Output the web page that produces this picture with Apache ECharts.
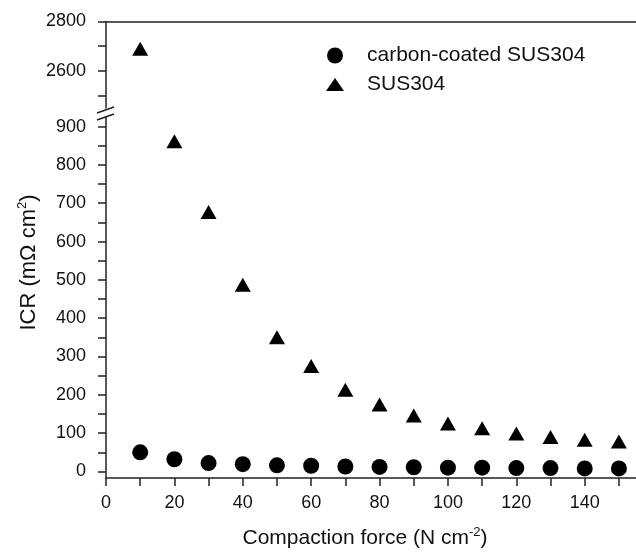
<!DOCTYPE html>
<html>
<head>
<meta charset="utf-8">
<script src="https://cdn.jsdelivr.net/npm/echarts@6/dist/echarts.min.js"></script>
<style>
  html, body { margin: 0; padding: 0; background: #fff; }
  #chart { width: 636px; height: 555px; }
</style>
</head>
<body>
<div id="chart"></div>
<script>
// compaction force (N cm-2)
var force = [10, 20, 30, 40, 50, 60, 70, 80, 90, 100, 110, 120, 130, 140, 150];
// ICR (mOhm cm2)
var coated = [50, 32, 22, 19, 16, 15, 13, 12, 11, 10, 10, 9, 9, 8, 8];
var bare = [2690, 862, 677, 487, 350, 275, 213, 175, 146, 125, 113, 99, 90, 83, 78];

var xTicks = [0, 10, 20, 30, 40, 50, 60, 70, 80, 90, 100, 110, 120, 130, 140, 150];
var xLabels = [0, 20, 40, 60, 80, 100, 120, 140];
var lowTicks = [0, 50, 100, 150, 200, 250, 300, 350, 400, 450, 500, 550, 600, 650, 700, 750, 800, 850, 900];
var lowLabels = [0, 100, 200, 300, 400, 500, 600, 700, 800, 900];
var highTicks = [2500, 2600, 2700, 2800];
var highLabels = [2600, 2800];
var breakAt = 925; // above this the points go in the top panel

var axisColor = '#222';
var textColor = '#111';
var font = "'Liberation Sans', Arial, sans-serif";

var lowBare = [], highBare = [], lowCoated = [];
force.forEach(function (f, i) {
  if (bare[i] > breakAt) highBare.push([f, bare[i]]);
  else lowBare.push([f, bare[i]]);
  lowCoated.push([f, coated[i]]);
});

var line = { color: axisColor, width: 1.5 };
var plain = function (v) { return String(v); };
var supRich = { sup: { fontSize: 13, verticalAlign: 'top', lineHeight: 12, fontFamily: font, color: textColor } };
var marker = { color: '#000', opacity: 1 };

var chart = echarts.init(document.getElementById('chart'));
chart.setOption({
  animation: false,
  backgroundColor: '#fff',
  textStyle: { fontFamily: font },
  grid: [
    { left: 106, right: 0, top: 21.5, height: 86.5 },
    { left: 106, right: 0, top: 117, height: 367.3 }
  ],
  legend: [
    {
      data: [{ name: 'carbon-coated SUS304', icon: 'circle', itemStyle: marker }],
      left: 327, top: 45, padding: 0,
      itemWidth: 16, itemHeight: 16,
      textStyle: { fontSize: 21, lineHeight: 20, color: textColor, fontFamily: font, padding: [0, 0, 0, 19] }
    },
    {
      data: [{ name: 'SUS304', icon: 'triangle', itemStyle: marker }],
      left: 326, top: 74, padding: 0,
      itemWidth: 18, itemHeight: 13,
      textStyle: { fontSize: 21, lineHeight: 20, color: textColor, fontFamily: font, padding: [0, 0, 0, 18] }
    }
  ],
  xAxis: [
    {
      gridIndex: 0, type: 'value', min: 0, max: 155, position: 'top',
      axisLine: { show: true, onZero: false, lineStyle: line },
      axisTick: { show: false }, axisLabel: { show: false }, splitLine: { show: false }
    },
    {
      gridIndex: 1, type: 'value', min: 0, max: 155, position: 'bottom',
      axisLine: { show: true, onZero: false, lineStyle: line },
      axisTick: { show: true, length: 8, customValues: xTicks, lineStyle: line },
      axisLabel: { customValues: xLabels, margin: 16, fontSize: 18, color: textColor, fontFamily: font, formatter: plain },
      splitLine: { show: false },
      name: 'Compaction force (N cm{sup|-2})',
      nameLocation: 'middle', nameGap: 48,
      nameTextStyle: { fontSize: 21, lineHeight: 24, color: textColor, fontFamily: font, rich: supRich, padding: [0, 12, 0, 0] }
    }
  ],
  yAxis: [
    {
      gridIndex: 0, type: 'value', min: 2450, max: 2800,
      axisLine: { show: true, onZero: false, lineStyle: line },
      axisTick: { show: true, length: 8, customValues: highTicks, lineStyle: line },
      axisLabel: { customValues: highLabels, margin: 20, fontSize: 18, color: textColor, fontFamily: font, formatter: plain },
      splitLine: { show: false }
    },
    {
      gridIndex: 1, type: 'value', min: -17, max: 925,
      axisLine: { show: true, onZero: false, lineStyle: line },
      axisTick: { show: true, length: 8, customValues: lowTicks, lineStyle: line },
      axisLabel: { customValues: lowLabels, margin: 20, fontSize: 18, color: textColor, fontFamily: font, formatter: plain },
      splitLine: { show: false },
      name: 'ICR (m\u03a9 cm{sup|2})',
      nameLocation: 'middle', nameGap: 64, nameRotate: 90,
      nameTextStyle: { fontSize: 22, lineHeight: 26, color: textColor, fontFamily: font, rich: supRich, padding: [0, 0, 0, 70] }
    }
  ],
  series: [
    {
      name: 'carbon-coated SUS304', type: 'scatter', xAxisIndex: 1, yAxisIndex: 1,
      symbol: 'circle', symbolSize: 16, itemStyle: marker,
      data: lowCoated, clip: false
    },
    {
      name: 'SUS304', type: 'scatter', xAxisIndex: 1, yAxisIndex: 1,
      symbol: 'triangle', symbolSize: [16, 14], itemStyle: marker,
      data: lowBare, clip: false
    },
    {
      name: 'SUS304', type: 'scatter', xAxisIndex: 0, yAxisIndex: 0,
      symbol: 'triangle', symbolSize: [16, 14], itemStyle: marker,
      data: highBare, clip: false
    }
  ],
  graphic: [
    // axis break marks
    { type: 'line', shape: { x1: 97, y1: 113, x2: 114, y2: 107 }, style: { stroke: axisColor, lineWidth: 1.5 } },
    { type: 'line', shape: { x1: 97, y1: 120, x2: 114, y2: 114 }, style: { stroke: axisColor, lineWidth: 1.5 } }
  ]
});
</script>
</body>
</html>
